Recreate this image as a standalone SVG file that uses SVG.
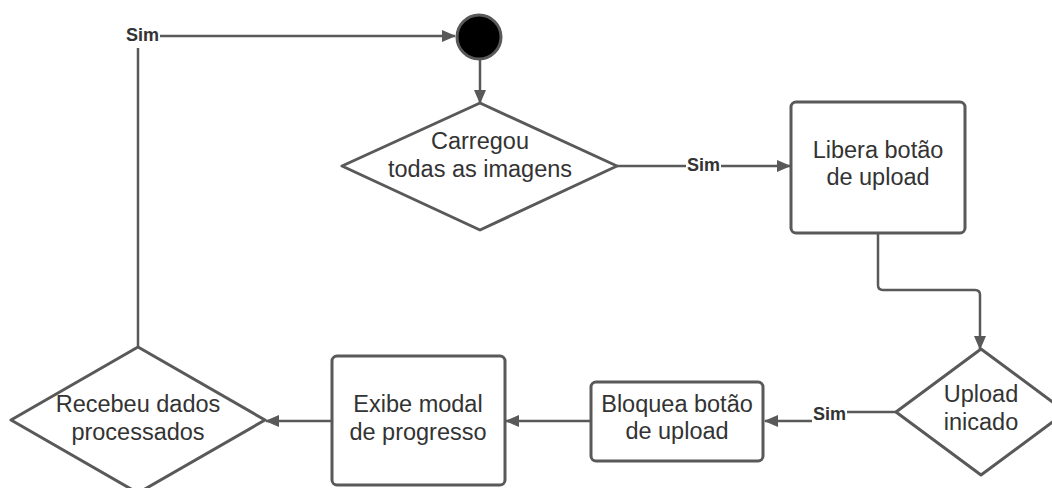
<svg xmlns="http://www.w3.org/2000/svg" width="1052" height="488" viewBox="0 0 1052 488">
<defs>
<marker id="arr" viewBox="0 0 14 12" refX="13" refY="6" markerWidth="14" markerHeight="12" markerUnits="userSpaceOnUse" orient="auto">
<path d="M0,0 L14,6 L0,12 Z" fill="#595959"/>
</marker>
<style>
.shape{fill:#ffffff;stroke:#595959;stroke-width:3;stroke-linejoin:round}
.conn{fill:none;stroke:#595959;stroke-width:2.5}
.t{font-family:"Liberation Sans",Arial,sans-serif;font-size:23.5px;fill:#333333;text-anchor:middle}
.lbl{font-family:"Liberation Sans",Arial,sans-serif;font-size:18px;font-weight:bold;fill:#333333;text-anchor:middle}
</style>
</defs>
<rect width="1052" height="488" fill="#ffffff"/>
<g id="connectors">
<path class="conn" d="M138,347 V48"/>
<path class="conn" d="M160,36 H455" marker-end="url(#arr)"/>
<path class="conn" d="M480,60 V103" marker-end="url(#arr)"/>
<path class="conn" d="M617,166 H790" marker-end="url(#arr)"/>
<path class="conn" d="M878,233 V285 Q878,290 883,290 H975 Q980,290 980,295 V349" marker-end="url(#arr)"/>
<path class="conn" d="M896,412 H830 V421 H765" marker-end="url(#arr)"/>
<path class="conn" d="M591,421 H506" marker-end="url(#arr)"/>
<path class="conn" d="M332,421 H266" marker-end="url(#arr)"/>
<rect x="125" y="25" width="35" height="20" fill="#ffffff"/>
<text class="lbl" x="142.5" y="41">Sim</text>
<rect x="686" y="156" width="35" height="20" fill="#ffffff"/>
<text class="lbl" x="703.5" y="171">Sim</text>
<rect x="812" y="405" width="35" height="20" fill="#ffffff"/>
<text class="lbl" x="829.5" y="420">Sim</text>
</g>
<g id="start">
<circle cx="479" cy="37" r="22" fill="#000000" stroke="#595959" stroke-width="3"/>
</g>
<g id="carregou">
<path class="shape" d="M480,103 L617,166 L480,230 L342,166 Z"/>
<text class="t" x="480" y="149">Carregou</text>
<text class="t" x="480" y="177">todas as imagens</text>
</g>
<g id="libera">
<rect class="shape" x="791" y="102" width="174" height="131" rx="5"/>
<text class="t" x="878" y="158">Libera botão</text>
<text class="t" x="878" y="185">de upload</text>
</g>
<g id="upload">
<path class="shape" d="M981,349 L1066,412 L981,475 L896,412 Z"/>
<text class="t" x="981" y="402">Upload</text>
<text class="t" x="981" y="430">inicado</text>
</g>
<g id="bloquea">
<rect class="shape" x="591" y="382" width="172" height="79" rx="5"/>
<text class="t" x="677" y="412">Bloquea botão</text>
<text class="t" x="677" y="439">de upload</text>
</g>
<g id="exibe">
<rect class="shape" x="332" y="356" width="173" height="129" rx="5"/>
<text class="t" x="418" y="412">Exibe modal</text>
<text class="t" x="418" y="440">de progresso</text>
</g>
<g id="recebeu">
<path class="shape" d="M138,347 L265,420 L138,493 L11,420 Z"/>
<text class="t" x="138" y="412">Recebeu dados</text>
<text class="t" x="138" y="440">processados</text>
</g>
</svg>
